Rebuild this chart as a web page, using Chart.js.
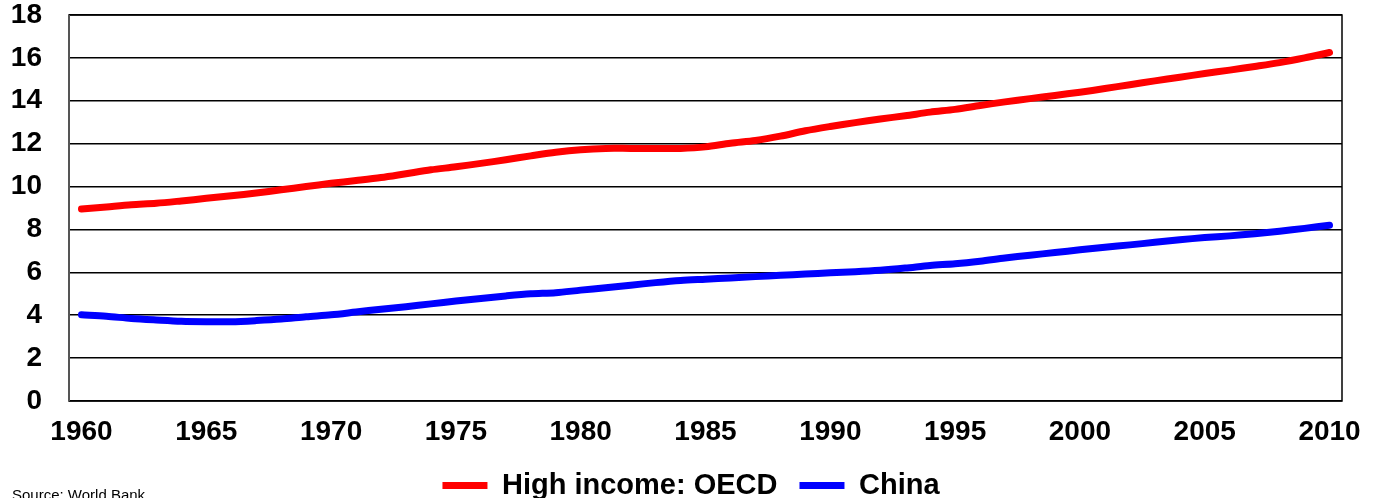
<!DOCTYPE html>
<html>
<head>
<meta charset="utf-8">
<script src="https://cdn.jsdelivr.net/npm/chart.js@4"></script>
<style>
    html, body { margin: 0; padding: 0; background: #fff; }
    .wrap { position: relative; width: 1376px; height: 498px; }
    .source {
        position: absolute; left: 12px; top: 486px;
        font: 15px "Liberation Sans", Arial, sans-serif; color: #000;
        white-space: nowrap;
    }
</style>
</head>
<body>
<div class="wrap">
    <canvas id="chart" width="1376" height="498"></canvas>
    <div class="source">Source: World Bank</div>
</div>
<script>
// Data (years 1960-2010)
const years = [];
for (let y = 1960; y <= 2010; y++) years.push(String(y));

const oecd = [
    8.95, 9.05, 9.15, 9.22, 9.33, 9.45, 9.57, 9.70, 9.85, 10.00,
    10.15, 10.28, 10.42, 10.60, 10.78, 10.92, 11.08, 11.25, 11.43, 11.60,
    11.72, 11.78, 11.78, 11.78, 11.78, 11.85, 12.02, 12.15, 12.35, 12.60,
    12.80, 12.98, 13.15, 13.30, 13.47, 13.60, 13.78, 13.95, 14.10, 14.25,
    14.40, 14.57, 14.75, 14.93, 15.10, 15.27, 15.43, 15.60, 15.78, 16.00,
    16.25
];

const china = [
    4.02, 3.95, 3.85, 3.78, 3.72, 3.70, 3.70, 3.75, 3.82, 3.93,
    4.02, 4.15, 4.28, 4.40, 4.53, 4.66, 4.78, 4.90, 5.00, 5.05,
    5.17, 5.28, 5.40, 5.52, 5.62, 5.68, 5.74, 5.80, 5.86, 5.92,
    5.98, 6.03, 6.10, 6.20, 6.32, 6.40, 6.52, 6.67, 6.80, 6.92,
    7.05, 7.17, 7.28, 7.40, 7.52, 7.62, 7.70, 7.80, 7.92, 8.05,
    8.20
];

const seriesNames = ['High income: OECD', 'China'];
const yTicks = [0, 2, 4, 6, 8, 10, 12, 14, 16, 18];

const font = '"Liberation Sans", Arial, sans-serif';

// Box around the plot area, and nudge the legend to sit where the original does
const frame = {
    id: 'frame',
    afterLayout(chart) {
        chart.legend.left += 40;
    },
    beforeDatasetsDraw(chart) {
        const { ctx, chartArea: a } = chart;
        ctx.save();
        ctx.strokeStyle = '#000';
        ctx.lineWidth = 1.5;
        ctx.strokeRect(a.left, a.top, a.right - a.left, a.bottom - a.top);
        ctx.strokeStyle = '#555';
        ctx.lineWidth = 2;
        ctx.beginPath();
        ctx.moveTo(a.left, a.top);
        ctx.lineTo(a.left, a.bottom);
        ctx.stroke();
        ctx.restore();
    }
};

const ctx = document.getElementById('chart').getContext('2d');

new Chart(ctx, {
    type: 'line',
    data: {
        labels: years,
        datasets: [{
            label: seriesNames[0],
            data: oecd,
            borderColor: '#ff0000',
            backgroundColor: '#ff0000',
            borderWidth: 7,
            borderCapStyle: 'round',
            tension: 0.3,
            pointRadius: 0
        }, {
            label: seriesNames[1],
            data: china,
            borderColor: '#0000ff',
            backgroundColor: '#0000ff',
            borderWidth: 7,
            borderCapStyle: 'round',
            tension: 0.3,
            pointRadius: 0
        }]
    },
    options: {
        responsive: false,
        animation: false,
        layout: {
            padding: { top: 15, right: 34, left: 0, bottom: -12 }
        },
        plugins: {
            legend: {
                position: 'bottom',
                labels: {
                    color: '#000',
                    font: { family: font, size: 29, weight: 'bold' },
                    usePointStyle: true,
                    pointStyle: 'line',
                    pointStyleWidth: 45,
                    boxHeight: 7,
                    padding: 22
                }
            },
            tooltip: { enabled: false }
        },
        scales: {
            x: {
                offset: true,
                grid: { display: false, drawTicks: false },
                border: { display: false },
                ticks: {
                    autoSkip: false,
                    maxRotation: 0,
                    padding: 14,
                    color: '#000',
                    font: { family: font, size: 28, weight: 'bold' },
                    callback: function(value, index) {
                        const yr = this.getLabelForValue(value);
                        return Number(yr) % 5 === 0 ? yr : '';
                    }
                },
                afterFit(axis) {
                    axis.height = 48;
                    axis.paddingLeft = 0;
                    axis.paddingRight = 0;
                }
            },
            y: {
                min: 0,
                max: 18,
                afterBuildTicks(axis) {
                    axis.ticks = yTicks.map(v => ({ value: v }));
                },
                grid: { color: '#000', lineWidth: 1.5, drawTicks: false },
                border: { display: false },
                ticks: {
                    padding: 27,
                    color: '#000',
                    font: { family: font, size: 28, weight: 'bold' }
                },
                afterFit(axis) {
                    axis.width = 69;
                    axis.paddingTop = 0;
                    axis.paddingBottom = 0;
                }
            }
        }
    },
    plugins: [frame]
});
</script>
</body>
</html>
